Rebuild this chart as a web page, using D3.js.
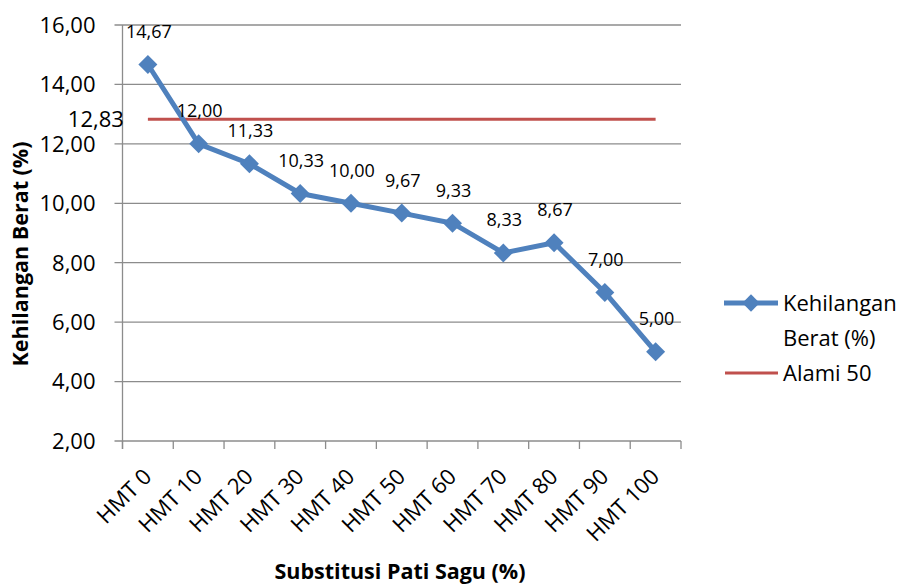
<!DOCTYPE html>
<html><head><meta charset="utf-8">
<script src="https://cdn.jsdelivr.net/npm/d3@7"></script>
<style>body{margin:0;background:#fff}svg{display:block}text{font-family:"Open Sans","Noto Sans",sans-serif;fill:#000}</style>
</head><body><svg id="c" width="903" height="585"></svg>
<script>
const categories=["HMT 0","HMT 10","HMT 20","HMT 30","HMT 40","HMT 50","HMT 60","HMT 70","HMT 80","HMT 90","HMT 100"];
const kehilangan=[14.67,12.00,11.33,10.33,10.00,9.67,9.33,8.33,8.67,7.00,5.00];
const alami=[12.83,12.83,12.83,12.83,12.83,12.83,12.83,12.83,12.83,12.83,12.83];
const yTicks=[2,4,6,8,10,12,14,16];
const fmt=v=>d3.format(".2f")(v).replace(".",",");
const svg=d3.select("#c");
const L=122.5,R=681,T=25,B=441;
const x=d3.scaleBand().domain(categories).range([L,R]);
const y=d3.scaleLinear().domain([2,16]).range([B,T]);
const cx=d=>x(d)+x.bandwidth()/2;
// grid
svg.append("g").selectAll("line").data(yTicks).join("line")
 .attr("x1",L-8).attr("x2",R).attr("y1",d=>y(d)).attr("y2",d=>y(d))
 .attr("stroke","#8c8c8c").attr("stroke-width",1.3);
svg.append("g").selectAll("text").data(yTicks).join("text")
 .attr("x",L-27).attr("y",d=>y(d)).attr("dy","0.36em").attr("text-anchor","end")
 .attr("font-size",22).text(fmt);
// axes
svg.append("line").attr("x1",L).attr("x2",L).attr("y1",T).attr("y2",B+8).attr("stroke","#8c8c8c").attr("stroke-width",1.3);
const tickX=categories.map(c=>x(c)).concat([R]);
svg.append("g").selectAll("line").data(tickX).join("line")
 .attr("x1",d=>d).attr("x2",d=>d).attr("y1",B).attr("y2",B+8).attr("stroke","#8c8c8c").attr("stroke-width",1.3);
svg.append("g").selectAll("text").data(categories).join("text")
 .attr("text-anchor","end").attr("font-size",22)
 .attr("transform",d=>`translate(${cx(d)+5},${B+37}) rotate(-45)`)
 .text(d=>d);
// red line
const line=d3.line().x((d,i)=>cx(categories[i])).y(d=>y(d));
svg.append("path").datum(alami).attr("d",line).attr("fill","none").attr("stroke","#c0504d").attr("stroke-width",3);
svg.append("text").attr("x",cx(categories[0])-24).attr("y",y(alami[0])).attr("dy","0.36em").attr("text-anchor","end").attr("font-size",22).text(fmt(alami[0]));
// blue line
svg.append("path").datum(kehilangan).attr("d",line).attr("fill","none").attr("stroke","#4f81bd").attr("stroke-width",5).attr("stroke-linejoin","round");
svg.append("g").selectAll("path").data(kehilangan).join("path")
 .attr("d",d3.symbol().type(d3.symbolSquare).size(180)).attr("transform",(d,i)=>`translate(${cx(categories[i])},${y(d)}) rotate(45)`)
 .attr("fill","#4f81bd");
svg.append("g").selectAll("text").data(kehilangan).join("text")
 .attr("x",(d,i)=>cx(categories[i])+1).attr("y",d=>y(d)-33).attr("dy","0.36em")
 .attr("text-anchor","middle").attr("font-size",18).text(fmt);
// axis titles
svg.append("text").attr("transform","translate(28,254) rotate(-90)").attr("text-anchor","middle").attr("font-size",21.5).attr("font-weight","bold").text("Kehilangan Berat (%)");
svg.append("text").attr("x",400).attr("y",579).attr("text-anchor","middle").attr("font-size",21.5).attr("font-weight","bold").text("Substitusi Pati Sagu (%)");
// legend
const lg=svg.append("g");
lg.append("line").attr("x1",724).attr("x2",778).attr("y1",303).attr("y2",303).attr("stroke","#4f81bd").attr("stroke-width",5);
lg.append("path").attr("d",d3.symbol().type(d3.symbolSquare).size(150)).attr("transform","translate(751,303) rotate(45)").attr("fill","#4f81bd");
lg.append("text").attr("x",783).attr("y",303).attr("dy","0.36em").attr("font-size",22).text("Kehilangan");
lg.append("text").attr("x",783).attr("y",338).attr("dy","0.36em").attr("font-size",22).text("Berat (%)");
lg.append("line").attr("x1",725).attr("x2",778).attr("y1",373).attr("y2",373).attr("stroke","#c0504d").attr("stroke-width",3);
lg.append("text").attr("x",783).attr("y",373).attr("dy","0.36em").attr("font-size",22).text("Alami 50");
</script></body></html>
